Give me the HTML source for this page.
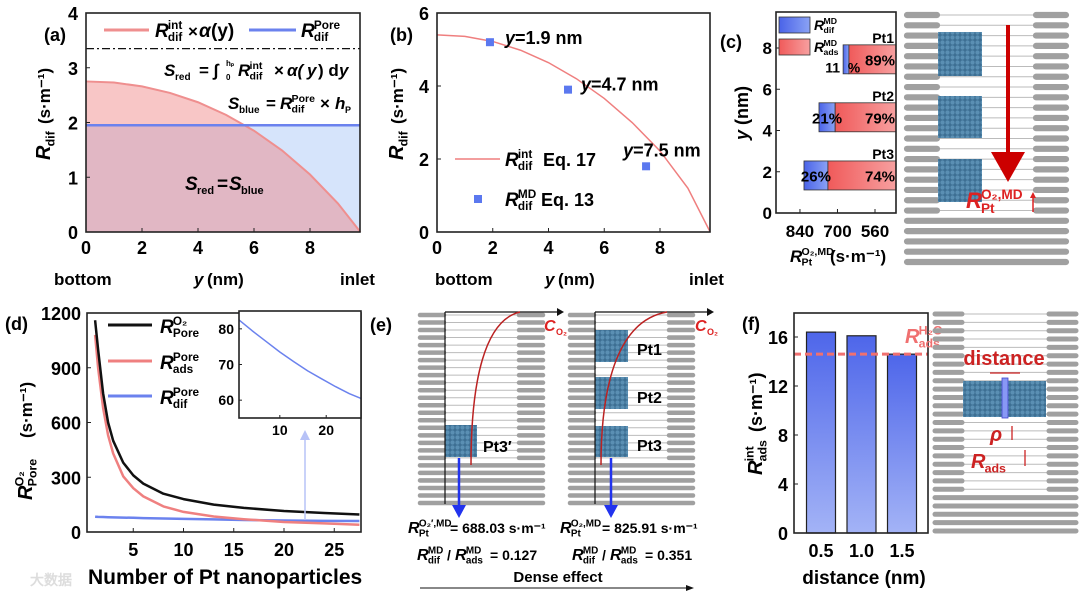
<!DOCTYPE html>
<html><head><meta charset="utf-8"><style>
html,body{margin:0;padding:0;background:#fff}
svg{display:block;font-family:"Liberation Sans",Arial,sans-serif;font-weight:bold}
</style></head><body>
<svg id="s" width="1080" height="597" viewBox="0 0 1080 597">
<defs>
<linearGradient id="gb" x1="0" x2="1"><stop offset="0" stop-color="#4a63e8"/><stop offset="1" stop-color="#8aa2f5"/></linearGradient>
<linearGradient id="gr" x1="0" x2="1"><stop offset="0" stop-color="#f05a5a"/><stop offset="1" stop-color="#f7a0a0"/></linearGradient>
<linearGradient id="gf" x1="0" y1="0" x2="0" y2="1"><stop offset="0" stop-color="#4e66ea"/><stop offset="1" stop-color="#a3b3f6"/></linearGradient>
<pattern id="pt" width="5" height="5" patternUnits="userSpaceOnUse"><rect width="5" height="5" fill="#3d6f93"/><circle cx="2.5" cy="2.5" r="2.1" fill="#5a8fb3"/></pattern>
</defs>
<g id="root"></g>
</svg>
<script>
const NS='http://www.w3.org/2000/svg';
const root=document.getElementById('root');
function el(tag,attrs,parent,txt){const e=document.createElementNS(NS,tag);for(const k in attrs)e.setAttribute(k,attrs[k]);if(txt!==undefined)e.textContent=txt;(parent||root).appendChild(e);return e;}
function T(x,y,s,str,o){o=o||{};const e=el('text',{x:x,y:y,'font-size':s,fill:o.fill||'#000','text-anchor':o.a||'start','font-style':o.it?'italic':'normal'},o.p,str);if(o.rot)e.setAttribute('transform','rotate(-90 '+x+' '+y+')');return e;}
function RS(x,y,s,sup,sub,o){o=o||{};const g=el('g',o.rot?{transform:'rotate(-90 '+x+' '+y+')'}:{},o.p);
 T(x,y,s,'R',{it:1,fill:o.fill,p:g});const ss=s*0.62;
 if(sup)T(x+s*0.68,y-s*0.42,ss,sup,{fill:o.fill,p:g});if(sub)T(x+s*0.68,y+s*0.22,ss,sub,{fill:o.fill,p:g});return g;}
function box(x1,y1,x2,y2,n){const r=el('rect',{x:x1,y:y1,width:x2-x1,height:y2-y1,fill:'none',stroke:'#222','stroke-width':1.6});}

// ===== Panel (a) data =====
const aX=[0,1,2,3,4,5,6,7,8,9,9.8];
const aRed=[2.75,2.73,2.66,2.54,2.37,2.14,1.85,1.49,1.05,0.52,0.0];
const aBlue=1.95, aDash=3.35;
const aXT=[0,2,4,6,8], aYT=[0,1,2,3,4];
(function(){
 const x0=86,x1=360,y0=232,y1=13,sx=v=>x0+v*(310-86)/8,sy=v=>y0-v*(y0-y1)/4;
 el('rect',{x:x0,y:sy(aBlue),width:x1-x0,height:y0-sy(aBlue),fill:'#d6e4fb'});
 let d='M'+sx(0)+','+y0;aX.forEach((v,i)=>d+=' L'+sx(v)+','+sy(aRed[i]));d+=' L'+sx(aX[aX.length-1])+','+y0+'Z';
 el('path',{d:d,fill:'#f08080','fill-opacity':0.45});
 let l='';aX.forEach((v,i)=>l+=(i?' L':'M')+sx(v)+','+sy(aRed[i]));
 const c=el('path',{d:l,fill:'none',stroke:'#ef8f8f','stroke-width':2});
 const b=el('line',{x1:x0,x2:x1,y1:sy(aBlue),y2:sy(aBlue),stroke:'#6b82ee','stroke-width':2.5});
 el('line',{x1:x0,x2:x1,y1:sy(aDash),y2:sy(aDash),stroke:'#111','stroke-width':1.2,'stroke-dasharray':'8,3,2,3'});
 box(x0,y1,x1,y0,'a-plot-frame');
 aXT.forEach(v=>{el('line',{x1:sx(v),x2:sx(v),y1:y0,y2:y0-4,stroke:'#222'});T(sx(v),254,18,String(v),{a:'middle'});});
 aYT.forEach(v=>{el('line',{x1:x0,x2:x0+4,y1:sy(v),y2:sy(v),stroke:'#222'});T(78,sy(v)+7,18,String(v),{a:'end'});});
 T(44,41,18,'(a)');
 RS(50,160,20,'','dif',{rot:1});T(50,124,17,'(s·m⁻¹)',{rot:1});
 el('line',{x1:104,x2:149,y1:30,y2:30,stroke:'#ef8f8f','stroke-width':3});RS(155,37,19,'int','dif');T(188,37,17,'×',{});T(199,37,19,'α',{it:1});T(211,37,19,'(y)');
 el('line',{x1:249,x2:296,y1:30,y2:30,stroke:'#6b82ee','stroke-width':3});RS(301,37,19,'Pore','dif');
 T(164,76,17,'S',{it:1});T(175,80,10,'red');T(199,76,17,'= ∫');T(226,66,8,'hₚ');T(226,80,8,'0');RS(238,76,17,'int','dif');T(274,76,17,'×');T(287,76,17,'α(',{it:1});T(307,76,17,'y',{it:1});T(318,76,17,') d');T(339,76,17,'y',{it:1});
 T(228,109,17,'S',{it:1});T(239,113,10,'blue');T(266,109,17,'=');RS(280,109,17,'Pore','dif');T(320,109,17,'×');T(335,109,17,'h',{it:1});T(345,113,9,'P');
 T(185,190,19,'S',{it:1});T(197,194,11,'red');T(217,190,19,'=');T(229,190,19,'S',{it:1});T(241,194,11,'blue');
 T(54,285,17,'bottom');T(194,285,17,'y',{it:1});T(207,285,17,'(nm)');T(340,285,17,'inlet');
})();

// ===== Panel (b) data =====
const bX=[0,1,2,3,4,5,6,7,8,9,9.8];
const bFit=[5.4,5.36,5.22,4.98,4.64,4.2,3.66,3.0,2.22,1.2,0.0];
const bPX=[1.9,4.7,7.5], bPY=[5.2,3.9,1.8];
const bPL=['y=1.9 nm','y=4.7 nm','y=7.5 nm'];
const bXT=[0,2,4,6,8], bYT=[0,2,4,6];
(function(){
 const x0=437,x1=710,y0=232,y1=13,sx=v=>x0+v*(660-437)/8,sy=v=>y0-v*(y0-y1)/6;
 let l='';bX.forEach((v,i)=>l+=(i?' L':'M')+sx(v)+','+sy(bFit[i]));
 const c=el('path',{d:l,fill:'none',stroke:'#ef7f7f','stroke-width':1.5});
 bPX.forEach((v,i)=>{const r=el('rect',{x:sx(v)-4,y:sy(bPY[i])-4,width:8,height:8,fill:'#5b78ef'});});
 const lo=[[15,-4],[13,-5],[-23,-16]];
 bPX.forEach((v,i)=>{const t=T(sx(v)+lo[i][0],sy(bPY[i])+lo[i][1]+6,18,'');el('tspan',{'font-style':'italic'},t,'y');el('tspan',{},t,bPL[i].slice(1));});
 box(x0,y1,x1,y0,'b-plot-frame');
 bXT.forEach(v=>{el('line',{x1:sx(v),x2:sx(v),y1:y0,y2:y0-4,stroke:'#222'});T(sx(v),254,18,String(v),{a:'middle'});});
 bYT.forEach(v=>{el('line',{x1:x0,x2:x0+4,y1:sy(v),y2:sy(v),stroke:'#222'});T(429,sy(v)+7,18,String(v),{a:'end'});});
 T(390,41,18,'(b)');
 RS(403,160,20,'','dif',{rot:1});T(403,124,17,'(s·m⁻¹)',{rot:1});
 el('line',{x1:455,x2:500,y1:159,y2:159,stroke:'#ef7f7f','stroke-width':1.5});RS(505,166,19,'int','dif');T(543,166,18,'Eq. 17');
 el('rect',{x:474,y:195,width:8,height:8,fill:'#5b78ef'});RS(505,206,19,'MD','dif');T(541,206,18,'Eq. 13');
 T(435,285,17,'bottom');T(545,285,17,'y',{it:1});T(558,285,17,'(nm)');T(689,285,17,'inlet');
})();

// ===== Panel (c) data =====
const cY=[7.45,4.64,1.82];
const cTot=[679,769,825];
const cDif=[11,21,26], cAds=[89,79,74];
const cNames=['Pt1','Pt2','Pt3'];
const cXT=[840,700,560], cYT=[0,2,4,6,8];
(function(){
 const x0=776,x1=896,y0=213,y1=12,sx=v=>875+(560-v)*0.268,sy=v=>y0-v*(213-48)/8;
 cY.forEach((yv,i)=>{const left=sx(cTot[i]),w=x1-left,h=29,split=left+w*cDif[i]/100;
  const b1=el('rect',{x:left,y:sy(yv)-h/2,width:split-left,height:h,fill:'url(#gb)',stroke:'#333','stroke-width':0.8});
  const b2=el('rect',{x:split,y:sy(yv)-h/2,width:x1-split,height:h,fill:'url(#gr)',stroke:'#333','stroke-width':0.8});
  T(894,sy(yv)-h/2-2,14,cNames[i],{a:'end'});
  T(880,sy(yv)+6,15,cAds[i]+'%',{a:'middle'});
  if(i==0){T(840,sy(yv)+13,14,'11',{a:'end'});T(854,sy(yv)+13,14,'%',{a:'middle'});}
  else T((left+split)/2,sy(yv)+6,15,cDif[i]+'%',{a:'middle'});
 });
 box(x0,y1,x1,y0,'c-plot-frame');
 cXT.forEach(v=>{el('line',{x1:sx(v),x2:sx(v),y1:y0,y2:y0-4,stroke:'#222'});T(sx(v),237,17,String(v),{a:'middle'});});
 cYT.forEach(v=>{el('line',{x1:x0,x2:x0+4,y1:sy(v),y2:sy(v),stroke:'#222'});T(772,sy(v)+6,17,String(v),{a:'end'});});
 T(720,48,18,'(c)');
 const yl=T(748,140,18,'',{rot:1});el('tspan',{'font-style':'italic'},yl,'y');el('tspan',{},yl,' (nm)');
 el('rect',{x:779,y:17,width:31,height:16,fill:'url(#gb)',stroke:'#333','stroke-width':0.8});RS(814,30,14,'MD','dif');
 el('rect',{x:779,y:39,width:31,height:16,fill:'url(#gr)',stroke:'#333','stroke-width':0.8});RS(814,52,14,'MD','ads');
 RS(790,262,17,'O₂,MD','Pt');T(830,262,17,'(s·m⁻¹)');
})();

// ===== molecular images =====
function mol(x1,x2,ya,yb,n,endW,full,blocks,name){
 const g=el('g',{});
 const sp=(yb-ya)/(n-1);
 for(let i=0;i<n;i++){const y=ya+i*sp;
  if(i>=n-full){el('line',{x1:x1,x2:x2,y1:y,y2:y,stroke:'#a0a0a0','stroke-width':sp*0.6,'stroke-linecap':'round'},g);}
  else{el('line',{x1:x1+endW,x2:x2-endW,y1:y,y2:y,stroke:'#bbb','stroke-width':1},g);
   el('line',{x1:x1,x2:x1+endW,y1:y,y2:y,stroke:'#a0a0a0','stroke-width':sp*0.6,'stroke-linecap':'round'},g);
   el('line',{x1:x2-endW,x2:x2,y1:y,y2:y,stroke:'#a0a0a0','stroke-width':sp*0.6,'stroke-linecap':'round'},g);}
 }
 blocks.forEach(b=>el('rect',{x:b[0],y:b[1],width:b[2],height:b[3],fill:'url(#pt)'},g));
 return g;
}
mol(907,1066,15,262,25,30,5,[[938,32,44,44],[938,96,44,42],[938,159,44,43]],'c-pore-model');
(function(){const g=el('g',{});
 el('line',{x1:1008,x2:1008,y1:25,y2:160,stroke:'#c00','stroke-width':4},g);
 el('path',{d:'M991,152 L1025,152 L1008,182 Z',fill:'#c00'},g);})();
RS(966,208,22,'O₂,MD','Pt',{fill:'#d22'});el('line',{x1:1033,x2:1033,y1:212,y2:196,stroke:'#d22','stroke-width':1.5});el('path',{d:'M1030,198 L1036,198 L1033,192Z',fill:'#d22'});

// ===== Panel (d) data =====
const dN=[1.2,1.5,2,2.5,3,4,5,6,8,10,13,16,20,24,27.5];
const dTot=[1160,1000,760,600,500,380,310,265,210,180,150,132,115,104,96];
const dAds=[1080,900,680,530,430,305,240,195,140,110,85,70,55,47,40];
const dDif=[84,83,82,81,80,79,78,76,74,72,69,66,63,61,60];
const dXT=[5,10,15,20,25], dYT=[0,300,600,900,1200];
const dInX=[1.2,4,7,10,13,16,19,22,25,27.5], dInY=[82.5,79.5,76.5,73.5,70.8,68.2,66,63.8,61.8,60.5];
(function(){
 const x0=87,x1=361,y0=532,y1=313,sx=v=>83+v*(334-133)/20,sy=v=>y0-v*(y0-y1)/1200;
 const line=(xs,ys,col,w,n,fx,fy)=>{let l='';xs.forEach((v,i)=>l+=(i?' L':'M')+fx(v).toFixed(1)+','+fy(ys[i]).toFixed(1));const p=el('path',{d:l,fill:'none',stroke:col,'stroke-width':w,'stroke-linejoin':'round'});};
 line(dN,dDif,'#6b82ee',2.5,'d-dif-curve',sx,sy);
 line(dN,dAds,'#ef8080',2.5,'d-ads-curve',sx,sy);
 line(dN,dTot,'#111',2.5,'d-total-curve',sx,sy);
 box(x0,y1,x1,y0,'d-plot-frame');
 dXT.forEach(v=>{el('line',{x1:sx(v),x2:sx(v),y1:y0,y2:y0-4,stroke:'#222'});T(sx(v),556,18,String(v),{a:'middle'});});
 dYT.forEach(v=>{el('line',{x1:x0,x2:x0+4,y1:sy(v),y2:sy(v),stroke:'#222'});T(81,sy(v)+7,18,String(v),{a:'end'});});
 T(5,330,18,'(d)');
 RS(32,500,20,'O₂','Pore',{rot:1});T(32,438,17,'(s·m⁻¹)',{rot:1});
 el('line',{x1:108,x2:152,y1:325,y2:325,stroke:'#111','stroke-width':3});RS(160,333,19,'O₂','Pore');
 el('line',{x1:108,x2:152,y1:361,y2:361,stroke:'#ef8080','stroke-width':3});RS(160,369,19,'Pore','ads');
 el('line',{x1:108,x2:152,y1:396,y2:396,stroke:'#6b82ee','stroke-width':3});RS(160,404,19,'Pore','dif');
 T(88,584,21,'Number of Pt nanoparticles');
 el('line',{x1:305,x2:305,y1:520,y2:437,stroke:'#b7c2f7','stroke-width':1.5});el('path',{d:'M300,440 L310,440 L305,430Z',fill:'#b7c2f7'});
 const ix0=239,ix1=361,iy0=418,iy1=311,ax=v=>ix0+(v-1.2)*(ix1-ix0)/26.3,ay=v=>iy0-(v-55)*(iy0-iy1)/30;
 el('rect',{x:ix0,y:iy1,width:ix1-ix0,height:iy0-iy1,fill:'#fff'});
 line(dInX,dInY,'#6b82ee',1.5,'d-inset-curve',ax,ay);
 box(ix0,iy1,ix1,iy0,'d-inset-frame');
 [10,20].forEach(v=>{T(ax(v),435,14,String(v),{a:'middle'});el('line',{x1:ax(v),x2:ax(v),y1:iy0,y2:iy0-3,stroke:'#222'});});
 [60,70,80].forEach(v=>{T(234,ay(v)+5,14,String(v),{a:'end'});el('line',{x1:ix0,x2:ix0+3,y1:ay(v),y2:ay(v),stroke:'#222'});});
 T(30,585,14,'大数据',{fill:'#ddd'});
})();

// ===== Panel (e) =====
T(370,331,18,'(e)');
mol(420,543,315,503,26,24,6,[[445,425,32,32]],'e-left-model');
mol(570,693,315,503,26,24,6,[[595,330,33,32],[595,377,33,32],[595,426,33,31]],'e-right-model');
[[445,557],[595,707]].forEach(a=>{el('line',{x1:a[0],x2:a[0],y1:312,y2:504,stroke:'#111','stroke-width':1.2});el('line',{x1:a[0],x2:a[1],y1:312,y2:312,stroke:'#111','stroke-width':1.2});el('path',{d:'M'+a[1]+',308 L'+(a[1]+7)+',312 L'+a[1]+',316Z',fill:'#111'});});
el('path',{d:'M471,465 C471,380 485,320 520,312',fill:'none',stroke:'#b22','stroke-width':1.5});
el('path',{d:'M601,465 C601,380 620,320 667,312',fill:'none',stroke:'#b22','stroke-width':1.5});
T(544,331,16,'C',{fill:'#d22',it:1});T(556,335,9,'O₂',{fill:'#d22'});
T(695,331,16,'C',{fill:'#d22',it:1});T(707,335,9,'O₂',{fill:'#d22'});
T(483,452,16,'Pt3′');T(637,355,16,'Pt1');T(637,403,16,'Pt2');T(637,451,16,'Pt3');
[459,611].forEach(x=>{el('line',{x1:x,x2:x,y1:458,y2:508,stroke:'#2233ee','stroke-width':2.5});el('path',{d:'M'+(x-7)+',505 L'+(x+7)+',505 L'+x+',518Z',fill:'#2233ee'});});
RS(408,533,16,"O₂′,MD",'Pt');T(450,533,14,'= 688.03 s·m⁻¹');
RS(560,533,16,'O₂,MD','Pt');T(602,533,14,'= 825.91 s·m⁻¹');
RS(417,560,16,'MD','dif');T(447,560,14,'/');RS(455,560,16,'MD','ads');T(490,560,14,'= 0.127');
RS(572,560,16,'MD','dif');T(602,560,14,'/');RS(610,560,16,'MD','ads');T(645,560,14,'= 0.351');
T(558,582,15,'Dense effect',{a:'middle'});
el('line',{x1:420,x2:686,y1:588,y2:588,stroke:'#111','stroke-width':1});el('path',{d:'M686,585 L694,588 L686,591Z',fill:'#111'});

// ===== Panel (f) data =====
const fX=['0.5','1.0','1.5'];
const fV=[16.4,16.1,14.6];
const fRef=14.6;
const fYT=[0,4,8,12,16];
(function(){
 const x0=794,x1=928,y0=533,y1=313,sy=v=>y0-v*(y0-337)/16,bx=i=>821+i*40.5,bw=29;
 fV.forEach((v,i)=>{const r=el('rect',{x:bx(i)-bw/2,y:sy(v),width:bw,height:y0-sy(v),fill:'url(#gf)',stroke:'#222','stroke-width':1.2});T(bx(i),557,18,fX[i],{a:'middle'});});
 const d=el('line',{x1:x0,x2:x1,y1:sy(fRef),y2:sy(fRef),stroke:'#f07070','stroke-width':3,'stroke-dasharray':'7,4'});
 box(x0,y1,x1,y0,'f-plot-frame');
 fYT.forEach(v=>{el('line',{x1:x0,x2:x0+4,y1:sy(v),y2:sy(v),stroke:'#222'});T(788,sy(v)+7,18,String(v),{a:'end'});});
 T(742,330,18,'(f)');
 RS(762,475,20,'int','ads',{rot:1});T(762,432,18,'(s·m⁻¹)',{rot:1});
 T(864,584,19,'distance (nm)',{a:'middle'});
 RS(905,343,20,'H₂O','ads',{fill:'#f07070'});
})();
mol(935,1076,314,531,27,27,5,[[963,381,83,36]],'f-pore-model');
el('rect',{x:1002,y:378,width:6,height:40,fill:'#8898f5',stroke:'#44c','stroke-width':0.8});
T(1004,365,20,'distance',{fill:'#c22',a:'middle'});
el('line',{x1:990,x2:1020,y1:373,y2:373,stroke:'#c22','stroke-width':1.2});
T(990,441,20,'ρ',{fill:'#c22',it:1});el('line',{x1:1012,x2:1012,y1:440,y2:426,stroke:'#c22','stroke-width':1.3});
RS(971,468,20,'','ads',{fill:'#c22'});el('line',{x1:1025,x2:1025,y1:466,y2:450,stroke:'#c22','stroke-width':1.3});
</script>
</body></html>
